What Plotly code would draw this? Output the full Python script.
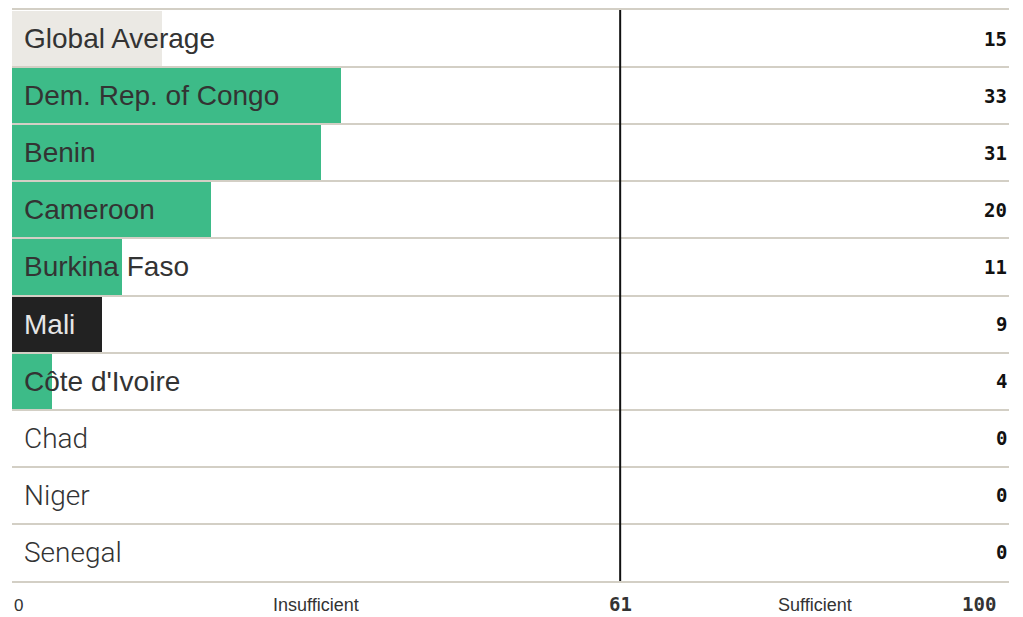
import plotly.graph_objects as go

countries = ["Global Average", "Dem. Rep. of Congo", "Benin", "Cameroon", "Burkina Faso",
             "Mali", "Côte d'Ivoire", "Chad", "Niger", "Senegal"]
scores = [15, 33, 31, 20, 11, 9, 4, 0, 0, 0]
threshold = 61
axis_min, axis_max = 0, 100
zone_labels = ["Insufficient", "Sufficient"]

GREEN = "#3dbb88"
bar_colors = []
for c in countries:
    if c == "Global Average":
        bar_colors.append("#ebe9e4")
    elif c == "Mali":
        bar_colors.append("#222222")
    else:
        bar_colors.append(GREEN)

ypos = list(range(len(countries)))

fig = go.Figure()
fig.add_trace(go.Bar(
    x=scores, y=ypos, orientation="h", width=0.965,
    marker=dict(color=bar_colors, line=dict(width=0)),
    hoverinfo="skip", showlegend=False,
))

annotations = []
for i, (c, v) in enumerate(zip(countries, scores)):
    if v > 0:
        font = dict(family="Liberation Sans, Arial, sans-serif", size=28,
                    color="#e6e6e6" if c == "Mali" else "#333333")
    else:
        font = dict(family="Roboto, sans-serif", size=28, color="#333333", weight=300)
    annotations.append(dict(x=0, y=i, xref="x", yref="y", text=c, showarrow=False,
                            xanchor="left", yanchor="middle", xshift=10, font=font))
    annotations.append(dict(x=axis_max, y=i, xref="x", yref="y", text=str(v), showarrow=False,
                            xanchor="right", yanchor="middle", xshift=0,
                            font=dict(family="DejaVu Sans Mono, monospace", size=19,
                                      color="#111111", weight="bold")))

# bottom scale labels
annotations.append(dict(x=axis_min, y=0, xref="x", yref="paper", text=str(axis_min), showarrow=False,
                        xanchor="left", yanchor="middle", yshift=-24,
                        font=dict(family="Liberation Sans, Arial", size=17, color="#333333")))
annotations.append(dict(x=(axis_min + threshold) / 2, y=0, xref="x", yref="paper", text=zone_labels[0],
                        showarrow=False, xanchor="center", yanchor="middle", yshift=-24,
                        font=dict(family="Liberation Sans, Arial", size=18, color="#333333")))
annotations.append(dict(x=threshold, y=0, xref="x", yref="paper", text=str(threshold), showarrow=False,
                        xanchor="center", yanchor="middle", yshift=-23,
                        font=dict(family="DejaVu Sans Mono, monospace", size=19, color="#333333",
                                  weight="bold")))
annotations.append(dict(x=(threshold + axis_max) / 2, y=0, xref="x", yref="paper", text=zone_labels[1],
                        showarrow=False, xanchor="center", yanchor="middle", yshift=-24,
                        font=dict(family="Liberation Sans, Arial", size=18, color="#333333")))
annotations.append(dict(x=axis_max, y=0, xref="x", yref="paper", text=str(axis_max), showarrow=False,
                        xanchor="right", yanchor="middle", xshift=-11, yshift=-23,
                        font=dict(family="DejaVu Sans Mono, monospace", size=19, color="#333333",
                                  weight="bold")))

fig.add_shape(type="line", x0=threshold, x1=threshold, y0=0, y1=1, xref="x", yref="paper",
              line=dict(color="#111111", width=2), layer="above")

# page has an 8px body margin; figure sized to fit the window
fig.update_layout(
    width=1015, height=609,
    margin=dict(l=4, r=14, t=0, b=36),
    paper_bgcolor="white", plot_bgcolor="white",
    bargap=0,
    xaxis=dict(range=[axis_min, axis_max], showgrid=False, zeroline=False,
               showticklabels=False, fixedrange=True,
               showline=True, mirror=True, linecolor="#d3cfc5", linewidth=2),
    yaxis=dict(range=[len(countries) - 0.5, -0.5], tickvals=[i - 0.5 for i in range(len(countries) + 1)],
               showgrid=True, gridcolor="#d3cfc5", gridwidth=2, showticklabels=False,
               zeroline=False, fixedrange=True, showline=False),
    annotations=annotations,
    showlegend=False,
)

fig.write_html("out.html")
